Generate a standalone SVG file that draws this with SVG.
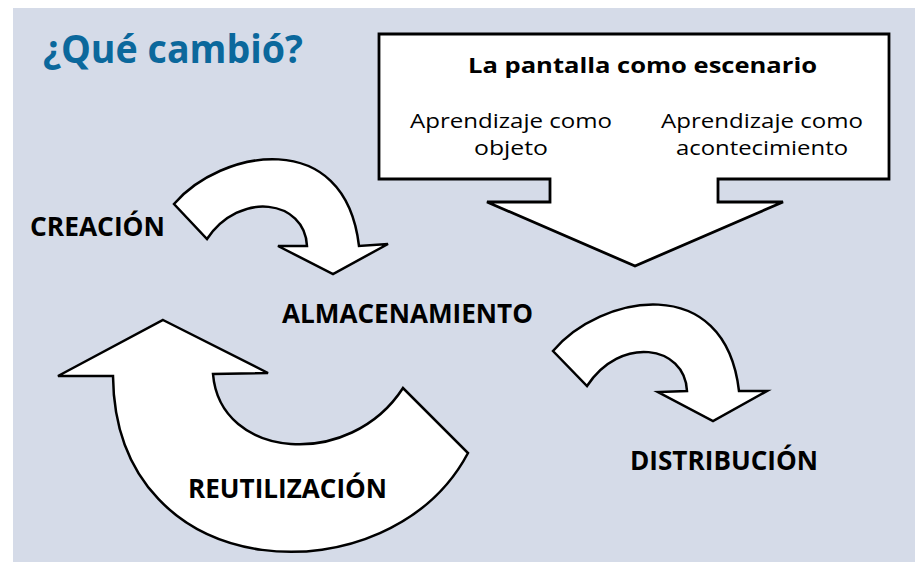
<svg xmlns="http://www.w3.org/2000/svg" width="915" height="562" viewBox="0 0 915 562">
<style>
.bg{fill:#d5dbe8}
.shape{fill:#fff;stroke:#000;stroke-width:2.5;stroke-linejoin:miter}
.lbl{font-family:"Open Sans","Noto Sans","Liberation Sans",sans-serif;font-weight:bold;font-size:26.5px;fill:#000}
.ttl{font-family:"Open Sans","Noto Sans","Liberation Sans",sans-serif;font-weight:bold;font-size:39px;fill:#0b689c}
.bt{font-family:"Open Sans","Noto Sans","Liberation Sans",sans-serif;font-weight:bold;font-size:22px;fill:#000}
.rt{font-family:"Open Sans","Noto Sans","Liberation Sans",sans-serif;font-size:19.5px;fill:#000;text-anchor:middle}
</style>
<rect class="bg" x="13" y="8" width="902" height="554"/>
<g id="title">
<text class="ttl" x="43" y="63" textLength="260" lengthAdjust="spacingAndGlyphs">¿Qué cambió?</text>
</g>
<g id="connectors">
<path class="shape" d="M174,204 C220,150 345,125 359,246 L388,244 L333,274 L278,246 L307,246 C305,200 240,190 207,239 Z"/>
<path class="shape" d="M553,351 C600,295 725,270 739,391 L767,391 L713,421 L658,392 L687,391 C685,345 620,335 587,386 Z"/>
<path class="shape" d="M163,320 L268,373 L213,374 C220,460 350,470 403,388 L468,453 C390,600 115,590 113,376 L58,376 Z"/>
</g>
<g id="pantalla">
<path class="shape" style="stroke-width:2.8" d="M379,34 H889 V179 H718 V202 H783 L635,266 L487,202 H550 V179 H379 Z"/>
<text class="bt" x="468" y="73" textLength="349" lengthAdjust="spacingAndGlyphs">La pantalla como escenario</text>
<text class="rt" x="511" y="128" textLength="202" lengthAdjust="spacingAndGlyphs">Aprendizaje como</text>
<text class="rt" x="511" y="155" textLength="74" lengthAdjust="spacingAndGlyphs">objeto</text>
<text class="rt" x="762" y="128" textLength="202" lengthAdjust="spacingAndGlyphs">Aprendizaje como</text>
<text class="rt" x="762" y="155" textLength="172" lengthAdjust="spacingAndGlyphs">acontecimiento</text>
</g>
<g id="creacion">
<text class="lbl" x="30" y="236" textLength="135" lengthAdjust="spacingAndGlyphs">CREACIÓN</text>
</g>
<g id="almacenamiento">
<text class="lbl" x="282" y="323" textLength="251" lengthAdjust="spacingAndGlyphs">ALMACENAMIENTO</text>
</g>
<g id="distribucion">
<text class="lbl" x="630" y="470" textLength="188" lengthAdjust="spacingAndGlyphs">DISTRIBUCIÓN</text>
</g>
<g id="reutilizacion">
<text class="lbl" x="188" y="498" textLength="199" lengthAdjust="spacingAndGlyphs">REUTILIZACIÓN</text>
</g>
</svg>
